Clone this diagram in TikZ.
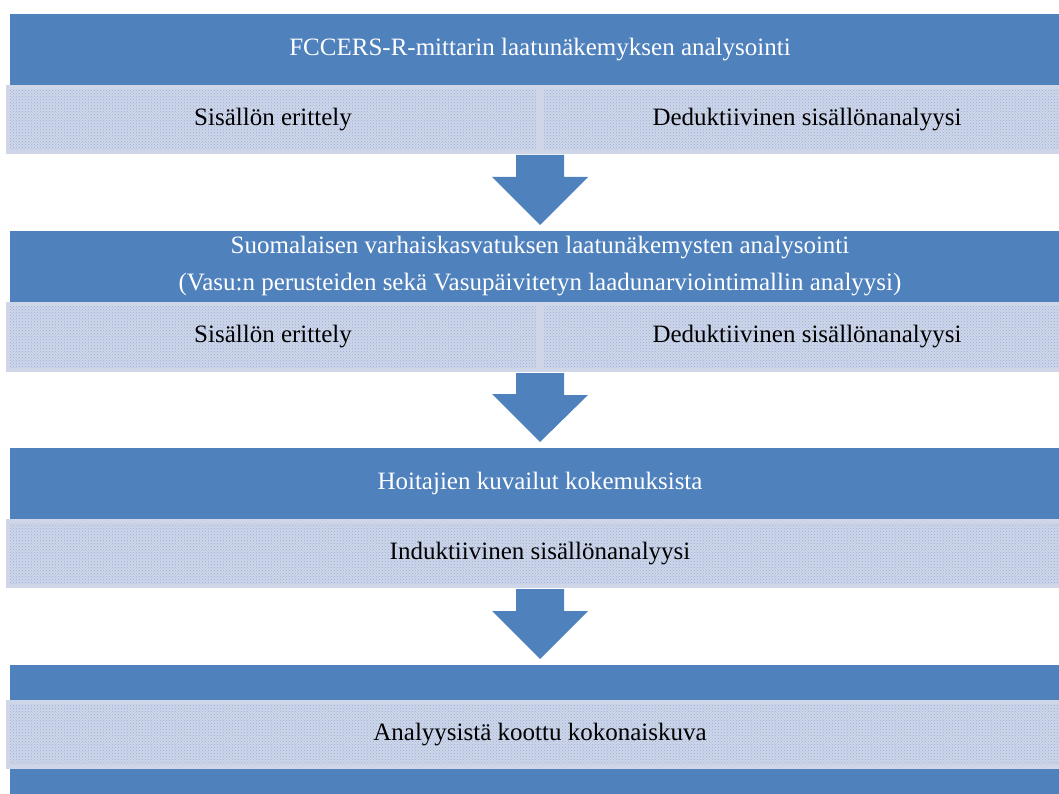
\documentclass[tikz,border=0pt]{standalone}
\usepackage{fontspec}
\setmainfont{Liberation Serif}
\usetikzlibrary{patterns, calc}
\definecolor{boxblue}{RGB}{79,129,189}
\definecolor{paleblue}{RGB}{206,214,232}
\definecolor{dotblue}{RGB}{150,176,222}

\begin{document}
\begin{tikzpicture}[
                x=1pt, y=-1pt,
                bluebox/.style={shape=rectangle, fill=boxblue, inner sep=0pt, outer sep=0pt, minimum width=1060pt, text=white, align=center, font=\fontsize{25}{37}\selectfont},
                dotcell/.style={shape=rectangle, preaction={fill=paleblue}, draw=paleblue, line width=4pt, pattern=crosshatch dots, pattern color=dotblue, inner sep=0pt, outer sep=0pt, text=black, font=\fontsize{25}{30}\selectfont},
                downarrow/.style={fill=boxblue}
                ]
                \useasboundingbox (0,0) rectangle (1059,794);
                \clip (0,0) rectangle (1059,794);

                %% Blue boxes
                \node[bluebox, minimum height=71pt] (fccers) at (540,49.5) {FCCERS-R-mittarin laatunäkemyksen analysointi};
                \node[bluebox, minimum height=71pt] (suomi) at (540,266.5) {Suomalaisen varhaiskasvatuksen laatunäkemysten analysointi\\(Vasu:n perusteiden sekä Vasupäivitetyn laadunarviointimallin analyysi)};
                \node[bluebox, minimum height=71pt] (hoitajat) at (540,483.5) {Hoitajien kuvailut kokemuksista};
                \node[bluebox, minimum height=140pt] (kokonais) at (540,735) {};

                %% Method rows
                \node[dotcell, minimum width=530pt, minimum height=65pt] (fccersA) at (273,119.5) {Sisällön erittely};
                \node[dotcell, minimum width=530pt, minimum height=65pt] (fccersB) at (807,119.5) {Deduktiivinen sisällönanalyysi};
                \node[dotcell, minimum width=530pt, minimum height=66pt] (suomiA) at (273,337) {Sisällön erittely};
                \node[dotcell, minimum width=530pt, minimum height=66pt] (suomiB) at (807,337) {Deduktiivinen sisällönanalyysi};
                \node[dotcell, minimum width=1064pt, minimum height=65pt] (hoitajatA) at (540,553.5) {Induktiivinen sisällönanalyysi};
                \node[dotcell, minimum width=1064pt, minimum height=65pt] (kokonaisA) at (540,734.5) {Analyysistä koottu kokonaiskuva};

                %% Arrows
                \fill[downarrow] ($(fccersA.south -| fccers.center)+(-24,3)$) -- ++(48,0) -- ++(0,22) -- ++(24,0)
                    -- ($(suomi.north)+(0,-6)$) -- ++(-48,-48) -- ++(24,0) -- cycle;
                \fill[downarrow] ($(suomiA.south -| suomi.center)+(-24,3)$) -- ++(48,0) -- ++(0,22) -- ++(24,0)
                    -- ($(hoitajat.north)+(0,-6)$) -- ++(-48,-48) -- ++(24,0) -- cycle;
                \fill[downarrow] ($(hoitajatA.south)+(-24,3)$) -- ++(48,0) -- ++(0,22) -- ++(24,0)
                    -- ($(kokonais.north)+(0,-6)$) -- ++(-48,-48) -- ++(24,0) -- cycle;
\end{tikzpicture}
\end{document}
